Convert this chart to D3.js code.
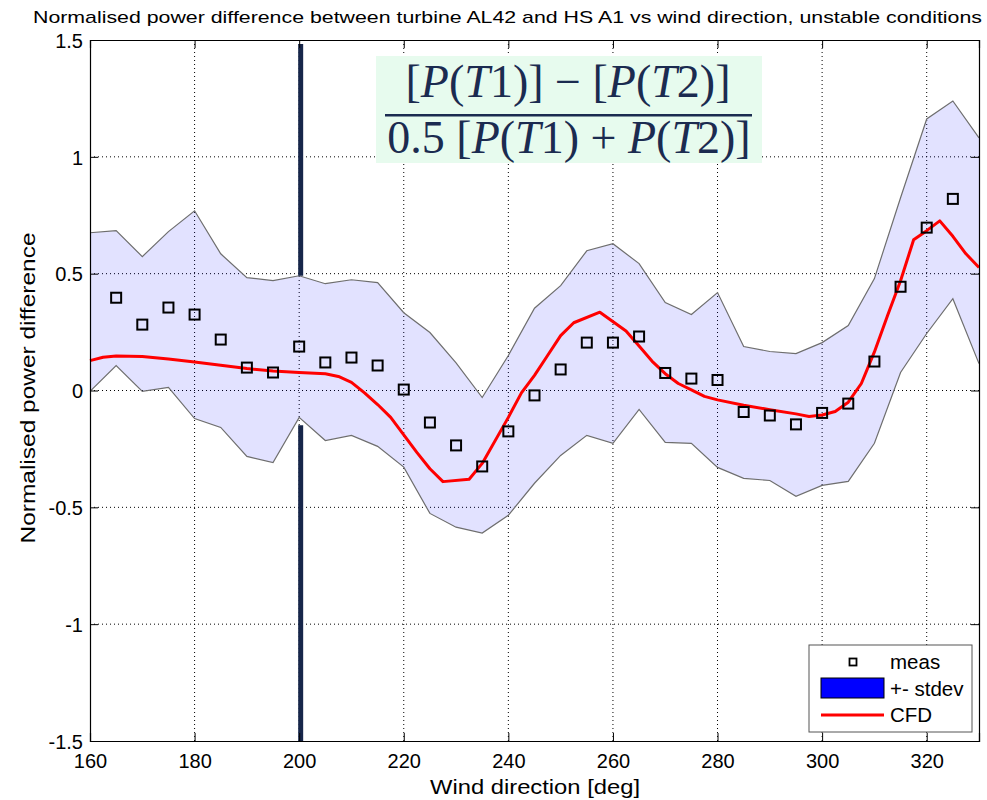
<!DOCTYPE html>
<meta charset="utf-8">
<script src="https://d3js.org/d3.v7.min.js"></script>
<style>
  body { margin: 0; background: #fff; }
</style>
<div id="my_dataviz"></div>
<script>

    // measured points (wind direction, normalised power difference)
    var measDir = [165, 170, 175, 180, 185, 190, 195, 200, 205, 210, 215, 220, 225, 230, 235, 240, 245,
                   250, 255, 260, 265, 270, 275, 280, 285, 290, 295, 300, 305, 310, 315, 320, 325];
    var measVal = [0.397, 0.282, 0.355, 0.325, 0.218, 0.098, 0.077, 0.188, 0.120, 0.141, 0.107, 0.004,
                   -0.137, -0.235, -0.325, -0.175, -0.021, 0.090, 0.205, 0.205, 0.231, 0.075, 0.051,
                   0.045, -0.092, -0.107, -0.145, -0.096, -0.056, 0.124, 0.444, 0.697, 0.820];

    // +- stdev band
    var bandDir = [160, 165, 170, 175, 180, 185, 190, 195, 200, 205, 210, 215, 220, 225, 230, 235, 240, 245,
                   250, 255, 260, 265, 270, 275, 280, 285, 290, 295, 300, 305, 310, 315, 320, 325, 330];
    var bandUpper = [0.675, 0.684, 0.573, 0.680, 0.769, 0.585, 0.483, 0.470, 0.491, 0.457, 0.474, 0.462,
                     0.333, 0.248, 0.118, -0.030, 0.150, 0.352, 0.449, 0.598, 0.628, 0.543, 0.376, 0.325,
                     0.419, 0.188, 0.167, 0.158, 0.205, 0.278, 0.479, 0.825, 1.162, 1.239, 1.081];
    var bandLower = [-0.004, 0.107, -0.004, 0.013, -0.120, -0.158, -0.282, -0.308, -0.115, -0.214, -0.192,
                     -0.239, -0.328, -0.526, -0.585, -0.610, -0.534, -0.397, -0.278, -0.192, -0.226, -0.081,
                     -0.222, -0.226, -0.329, -0.376, -0.385, -0.453, -0.406, -0.389, -0.226, 0.077, 0.244,
                     0.393, 0.115];

    // CFD curve
    var cfdDir = [160, 162.5, 165, 170, 175, 180, 185, 190, 195, 200, 205, 207.5, 210, 212.5, 215, 217.5,
                  220, 222.5, 225, 227.5, 232.5, 235, 240, 242.5, 245, 247.5, 250, 252.5, 257.5, 262.5,
                  265, 267.5, 270, 272.5, 275, 277.5, 280, 285, 290, 295, 297.5, 300, 302.5, 305, 307.5,
                  310, 312.5, 315, 317.5, 320, 322.5, 325, 327.5, 330];
    var cfdVal = [0.128, 0.142, 0.148, 0.146, 0.135, 0.122, 0.108, 0.094, 0.083, 0.077, 0.072, 0.060,
                  0.035, -0.010, -0.060, -0.115, -0.190, -0.265, -0.335, -0.390, -0.380, -0.312, -0.115,
                  -0.010, 0.065, 0.150, 0.235, 0.290, 0.335, 0.255, 0.190, 0.125, 0.072, 0.030, 0.003,
                  -0.025, -0.040, -0.063, -0.082, -0.100, -0.111, -0.105, -0.090, -0.050, 0.030, 0.165,
                  0.320, 0.470, 0.645, 0.684, 0.726, 0.660, 0.585, 0.526];

    var xTicks = [160, 180, 200, 220, 240, 260, 280, 300, 320];
    var yTicks = [-1.5, -1, -0.5, 0, 0.5, 1, 1.5];
    var markerDir = 200;   // the thick vertical line

    var W = 987, H = 800;
    var margin = {top: 40, right: 8, bottom: 59, left: 90},
      width = W - margin.left - margin.right,
      height = H - margin.top - margin.bottom;

    var sans = "'Liberation Sans', Arial, sans-serif";

    var svg = d3.select("#my_dataviz")
      .append("svg")
        .attr("width", W)
        .attr("height", H)
        .attr("font-family", sans);

    var g = svg.append("g")
        .attr("transform", "translate(" + margin.left + "," + margin.top + ")");

    var x = d3.scaleLinear().domain([160, 330]).range([0, width]);
    var y = d3.scaleLinear().domain([-1.5, 1.5]).range([height, 0]);

    // dotted grid
    g.append("g").selectAll("line")
      .data(xTicks.filter(function(d) { return d > 160; }))
      .enter().append("line")
        .attr("x1", function(d) { return x(d); }).attr("x2", function(d) { return x(d); })
        .attr("y1", 0).attr("y2", height)
        .attr("stroke", "#000").attr("stroke-width", 1).attr("stroke-dasharray", "1,3");
    g.append("g").selectAll("line")
      .data(yTicks.filter(function(d) { return d > -1.5 && d < 1.5; }))
      .enter().append("line")
        .attr("x1", 0).attr("x2", width)
        .attr("y1", function(d) { return y(d); }).attr("y2", function(d) { return y(d); })
        .attr("stroke", "#000").attr("stroke-width", 1).attr("stroke-dasharray", "1,3");

    var band = bandDir.map(function(d, i) { return {dir: d, hi: bandUpper[i], lo: bandLower[i]}; });

    // stdev band
    g.append("path")
      .datum(band)
      .attr("fill", "#0000ff")
      .attr("fill-opacity", 0.115)
      .attr("d", d3.area()
        .x(function(d) { return x(d.dir); })
        .y0(function(d) { return y(d.lo); })
        .y1(function(d) { return y(d.hi); }));
    [ "hi", "lo" ].forEach(function(k) {
      g.append("path")
        .datum(band)
        .attr("fill", "none")
        .attr("stroke", "#6e6e6e")
        .attr("stroke-width", 1.2)
        .attr("d", d3.line()
          .x(function(d) { return x(d.dir); })
          .y(function(d) { return y(d[k]); }));
    });

    // thick vertical line at 200 deg, hidden inside the band
    var bi = bandDir.indexOf(markerDir);
    g.append("line")
      .attr("x1", x(markerDir) + 1.5).attr("x2", x(markerDir) + 1.5)
      .attr("y1", 4).attr("y2", y(bandUpper[bi]))
      .attr("stroke", "#17264a").attr("stroke-width", 5);
    g.append("line")
      .attr("x1", x(markerDir) + 1.5).attr("x2", x(markerDir) + 1.5)
      .attr("y1", y(bandLower[bi]) + 8).attr("y2", height)
      .attr("stroke", "#17264a").attr("stroke-width", 5);

    // CFD line
    g.append("path")
      .datum(cfdDir.map(function(d, i) { return [d, cfdVal[i]]; }))
      .attr("fill", "none")
      .attr("stroke", "#ff0000")
      .attr("stroke-width", 3)
      .attr("stroke-linejoin", "round")
      .attr("d", d3.line()
        .x(function(d) { return x(d[0]); })
        .y(function(d) { return y(d[1]); }));

    // measurement squares
    g.append("g").selectAll("rect")
      .data(measDir.map(function(d, i) { return [d, measVal[i]]; }))
      .enter().append("rect")
        .attr("x", function(d) { return x(d[0]) - 5; })
        .attr("y", function(d) { return y(d[1]) - 5; })
        .attr("width", 10).attr("height", 10)
        .attr("fill", "none")
        .attr("stroke", "#000")
        .attr("stroke-width", 2);

    // axes (ticks pointing inward)
    var xb = g.append("g").attr("transform", "translate(0," + height + ")")
      .call(d3.axisBottom(x).tickValues(xTicks).tickSize(-8).tickPadding(13).tickFormat(d3.format("d")));
    var yl = g.append("g")
      .call(d3.axisLeft(y).tickValues(yTicks).tickSize(-8).tickPadding(7).tickFormat(function(d) { return String(d); }));
    g.append("g").call(d3.axisTop(x).tickValues(xTicks).tickSize(-8).tickFormat(""));
    g.append("g").attr("transform", "translate(" + width + ",0)")
      .call(d3.axisRight(y).tickValues(yTicks).tickSize(-8).tickFormat(""));
    g.selectAll(".domain").attr("stroke", "#000").attr("stroke-width", 1.2);
    g.selectAll(".tick line").attr("stroke", "#000");
    g.selectAll(".tick text").attr("font-size", "20px").attr("fill", "#000")
      .attr("font-family", sans);
    yl.selectAll(".tick text").attr("dy", "0.36em");

    // title and labels
    svg.append("text")
      .attr("x", 33).attr("y", 23)
      .attr("font-size", "17px")
      .attr("textLength", 949).attr("lengthAdjust", "spacingAndGlyphs")
      .text("Normalised power difference between turbine AL42 and HS A1 vs wind direction, unstable conditions");
    svg.append("text")
      .attr("x", 535).attr("y", 794)
      .attr("text-anchor", "middle")
      .attr("font-size", "21px")
      .attr("textLength", 210).attr("lengthAdjust", "spacingAndGlyphs")
      .text("Wind direction [deg]");
    svg.append("text")
      .attr("transform", "translate(35,388) rotate(-90)")
      .attr("text-anchor", "middle")
      .attr("font-size", "21px")
      .attr("textLength", 311).attr("lengthAdjust", "spacingAndGlyphs")
      .text("Normalised power difference");

    // formula box
    var serif = "'Liberation Serif', 'DejaVu Serif', serif";
    var fm = svg.append("g").attr("fill", "#1b2b50");
    fm.append("rect")
      .attr("x", 376).attr("y", 56).attr("width", 386).attr("height", 107)
      .attr("fill", "#e7fbee");
    function formula(yy, parts, cx) {
      var t = fm.append("text").attr("x", cx).attr("y", yy)
        .attr("text-anchor", "middle")
        .attr("font-size", "46px")
        .attr("font-family", serif);
      parts.forEach(function(p) {
        t.append("tspan").attr("font-style", p[1] ? "italic" : "normal").text(p[0]);
      });
    }
    formula(97, [["[", 0], ["P", 1], ["(", 0], ["T", 1], ["1)] \u2212 [", 0], ["P", 1], ["(", 0], ["T", 1], ["2)]", 0]], 568);
    fm.append("rect").attr("x", 385).attr("y", 114).attr("width", 367).attr("height", 2.5);
    formula(153, [["0.5 [", 0], ["P", 1], ["(", 0], ["T", 1], ["1) + ", 0], ["P", 1], ["(", 0], ["T", 1], ["2)]", 0]], 569);

    // legend
    var lg = svg.append("g").attr("transform", "translate(809,645)");
    lg.append("rect").attr("width", 163).attr("height", 87)
      .attr("fill", "#fff").attr("stroke", "#555").attr("stroke-width", 1);
    lg.append("rect").attr("x", 40.5).attr("y", 13.5).attr("width", 7).attr("height", 7)
      .attr("fill", "none").attr("stroke", "#000").attr("stroke-width", 1.8);
    lg.append("rect").attr("x", 12).attr("y", 33).attr("width", 63).attr("height", 20)
      .attr("fill", "#0000ff").attr("stroke", "#000").attr("stroke-width", 1);
    lg.append("line").attr("x1", 12).attr("x2", 75).attr("y1", 70).attr("y2", 70)
      .attr("stroke", "#ff0000").attr("stroke-width", 3);
    var legTxt = ["meas", "+- stdev", "CFD"];
    lg.selectAll(".lt").data(legTxt).enter().append("text")
      .attr("class", "lt")
      .attr("x", 81).attr("y", function(d, i) { return 24 + i * 26.5; })
      .attr("font-size", "20.5px")
      .text(function(d) { return d; });

</script>
